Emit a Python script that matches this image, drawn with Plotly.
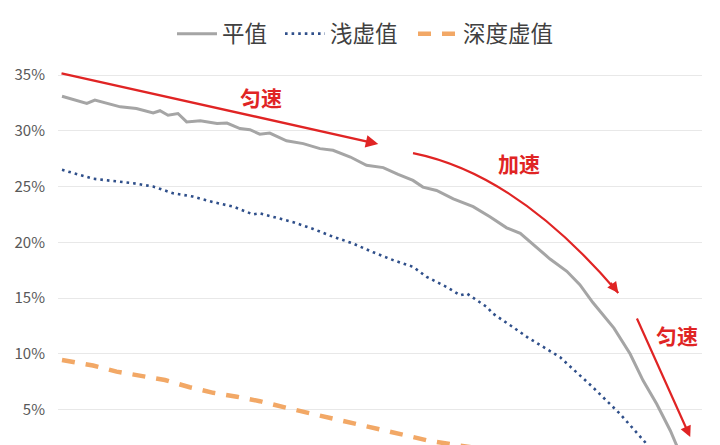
import plotly.graph_objects as go

# ---- data (values in %) ----
series_names = ["平值", "浅虚值", "深度虚值"]

atm_x = [0, 1.8, 4, 5.3, 7.2, 9.4, 12, 14.7, 15.8, 17.1, 18.7, 20.1, 22.3, 25, 26.6, 28.7, 30.3,
         31.9, 33.5, 36.2, 38.9, 41.6, 43.7, 46.5, 49.1, 51.8, 54.2, 56.6, 58.2, 60.4, 63.1, 66.3,
         69, 71.7, 73.9, 76, 78.7, 81.4, 83.5, 85.6, 87.9, 89, 91.6, 93.7, 95.9, 98.1, 99.1, 100.5]
atm_y = [33.1, 32.8, 32.45, 32.75, 32.45, 32.15, 32.0, 31.6, 31.8, 31.4, 31.55, 30.8, 30.9, 30.65,
         30.7, 30.2, 30.1, 29.7, 29.8, 29.1, 28.85, 28.4, 28.25, 27.65, 26.9, 26.7, 26.1, 25.55,
         24.95, 24.65, 23.9, 23.2, 22.3, 21.3, 20.8, 19.8, 18.5, 17.4, 16.2, 14.6, 13.1, 12.3, 10.0,
         7.6, 5.5, 3.1, 1.8, 0.3]

otm_x = [0, 1.8, 5, 8.2, 11.5, 14.7, 17.9, 21.1, 24.4, 27.6, 30.8, 31.9, 34, 37.3, 40.5, 43.7,
         46.9, 50.2, 53.4, 56.6, 58.8, 62, 64.2, 65.3, 68.5, 69.5, 72.7, 75, 80.3, 85.6, 90, 94.3, 96.5]
otm_y = [26.5, 26.2, 25.7, 25.5, 25.3, 25.0, 24.4, 24.1, 23.6, 23.2, 22.5, 22.6, 22.3, 21.8, 21.2,
         20.5, 19.9, 19.1, 18.4, 17.8, 16.9, 16.0, 15.25, 15.4, 14.2, 13.6, 12.4, 11.5, 9.7, 7.0,
         4.6, 1.9, 0.2]

dotm_x = [0, 5, 8.8, 12.6, 16.6, 20.6, 24.4, 28.2, 31.9, 36.2, 40, 43.7, 47.5, 51.3, 55, 58.8,
          63.1, 70, 80, 90, 100]
dotm_y = [9.45, 8.95, 8.4, 8.0, 7.65, 7.0, 6.5, 6.15, 5.75, 5.15, 4.65, 4.15, 3.65, 3.15, 2.65,
          2.25, 1.85, 1.3, 0.8, 0.4, 0.1]

tick_vals = [5, 10, 15, 20, 25, 30, 35]
tick_text = ["5%", "10%", "15%", "20%", "25%", "30%", "35%"]

phase_labels = ["匀速", "加速", "匀速"]

# ---- style ----
RED = "#E02424"
CJK = "Noto Sans CJK SC"

fig = go.Figure()
fig.add_trace(go.Scatter(x=atm_x, y=atm_y, mode="lines", name=series_names[0], legend="legend",
                         line=dict(color="#A5A5A5", width=3)))
fig.add_trace(go.Scatter(x=otm_x, y=otm_y, mode="lines", name=series_names[1], legend="legend2",
                         line=dict(color="#2F4F8A", width=2.6, dash="2.6px,4px")))
fig.add_trace(go.Scatter(x=dotm_x, y=dotm_y, mode="lines", name=series_names[2], legend="legend3",
                         line=dict(color="#F2A866", width=4.5, dash="13px,11px")))

# straight arrow 1 (uniform)
fig.add_annotation(x=51.0, y=28.81, ax=-0.32, ay=35.18, xref="x", yref="y", axref="x", ayref="y",
                   showarrow=True, arrowhead=2, arrowsize=1, arrowwidth=2.5, arrowcolor=RED, text="")
# curved arrow 2 (accelerating)
fig.add_shape(type="path", xref="x", yref="y",
              path="M 56.6,28.0 Q 73.4,26.12 89.7,15.45",
              line=dict(color=RED, width=2.2))
fig.add_annotation(x=89.7, y=15.45, ax=88.3, ay=16.5, xref="x", yref="y", axref="x", ayref="y",
                   showarrow=True, arrowhead=2, arrowsize=1, arrowwidth=2.2, arrowcolor=RED, text="")
# straight arrow 3 (uniform)
fig.add_annotation(x=101.3, y=2.53, ax=92.6, ay=13.30, xref="x", yref="y", axref="x", ayref="y",
                   showarrow=True, arrowhead=2, arrowsize=1, arrowwidth=2.2, arrowcolor=RED, text="")

label_pos = [(32.1, 33.0), (73.7, 27.1), (99.2, 11.7)]
for txt, (lx, ly) in zip(phase_labels, label_pos):
    fig.add_annotation(x=lx, y=ly, xref="x", yref="y", text="<b>" + txt + "</b>", showarrow=False,
                       font=dict(family=CJK, size=21, color=RED))

leg_common = dict(orientation="h", xanchor="left", y=1.0675, yanchor="middle",
                  font=dict(family=CJK, size=22.5, color="#404040"),
                  bgcolor="rgba(0,0,0,0)", itemwidth=40)

fig.update_layout(
    width=712, height=437,
    margin=dict(l=50, r=18, t=52, b=0),
    paper_bgcolor="white", plot_bgcolor="white",
    showlegend=True,
    legend=dict(x=0.177, **leg_common),
    legend2=dict(x=0.3447, **leg_common),
    legend3=dict(x=0.5512, **leg_common),
    xaxis=dict(visible=False, range=[-0.645, 103.2]),
    yaxis=dict(range=[1.82, 36.35], tickvals=tick_vals, ticktext=tick_text,
               showgrid=True, gridcolor="#E8E8E8", gridwidth=1, zeroline=False,
               showline=False, ticks="", ticklabelstandoff=12,
               tickfont=dict(family=CJK, size=15, color="#595959")),
)

fig.write_html("out.html")
